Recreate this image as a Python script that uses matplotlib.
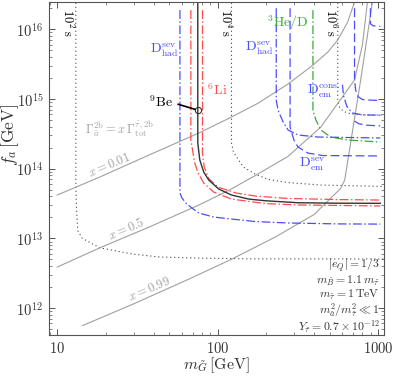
import matplotlib
matplotlib.use("Agg")
import matplotlib.pyplot as plt
from matplotlib.ticker import LogLocator, NullFormatter

plt.rcParams['mathtext.fontset'] = 'cm'
plt.rcParams['font.family'] = ['DejaVu Serif']

# ---------------- data (m_G in GeV, f_a in GeV) ----------------
# lifetime contours (dotted)
t2_m = [13.05, 13.05, 13.15, 13.4, 14.3, 18.4, 29.4, 43.2, 76.3, 156, 1090]
t2_f = [2.4e16, 6.9e13, 3.0e13, 1.3e13, 1.0e13, 7.3e12, 5.96e12, 5.4e12, 5.2e12, 5.08e12, 5.05e12]
t4_m = [122, 122, 125.6, 135, 145, 172, 207, 275, 440, 1090]
t4_f = [2.4e16, 2.33e14, 1.73e14, 1.33e14, 1.05e14, 8.3e13, 7.0e13, 6.3e13, 5.82e13, 5.55e13]
t6_m = [561, 561, 575, 610, 680, 800, 1090]
t6_f = [2.4e16, 9.6e14, 7.6e14, 6.6e14, 6.1e14, 5.9e14, 5.85e14]

# 9Be (solid)
be_m = [75.2, 75.2, 77.4, 81.9, 88.0, 101.5, 122, 156, 198, 317, 561, 1033]
be_f = [2.4e16, 2.33e14, 1.33e14, 8.94e13, 6.86e13, 5.1e13, 4.18e13, 3.66e13, 3.46e13, 3.24e13, 3.19e13, 3.18e13]
be_mark_m = [75.2]
be_mark_f = [6.9e14]

# 6Li (red dash-dot), two curves
li1_m = [68.1, 68.1, 72.0, 75.5, 81.9, 94.4, 122, 198, 317, 1033]
li1_f = [1.88e16, 2.57e14, 1.20e14, 8.65e13, 6.2e13, 4.61e13, 3.66e13, 3.15e13, 3.01e13, 2.91e13]
li2_m = [80.5, 80.5, 82.5, 88.0, 100, 130, 172, 275, 561, 1033]
li2_f = [1.88e16, 1.6e14, 1.05e14, 7.2e13, 5.45e13, 4.47e13, 4.04e13, 3.73e13, 3.6e13, 3.54e13]

# D_had^sev (blue dash-dot, left)
dh1_m = [58.2, 58.2, 59.9, 63.4, 69.1, 76.3, 94.4, 122, 172, 275, 561, 1033]
dh1_f = [1.88e16, 4.47e13, 3.79e13, 3.21e13, 2.72e13, 2.31e13, 2.02e13, 1.89e13, 1.74e13, 1.66e13, 1.61e13, 1.60e13]

# 3He/D (green dash-dot)
he_m = [393, 393, 410, 440, 508, 647, 1033]
he_f = [1.88e16, 6.9e14, 4.98e14, 3.58e14, 2.84e14, 2.57e14, 2.41e14]

# D_had^sev (blue dash-dot, right)
dh2_m = [232, 232, 238, 256, 275, 317, 422, 1033]
dh2_f = [2.0e16, 9.6e14, 6.9e14, 4.67e14, 3.58e14, 3.04e14, 2.84e14, 2.75e14]

# D_em^sev (blue dashed)
des_m = [283, 283, 299, 317, 366, 453, 1033]
des_f = [2.0e16, 3.95e14, 2.57e14, 2.04e14, 1.67e14, 1.54e14, 1.52e14]

# D_em^cons (blue, upper right)
dc1_m = [714, 714, 725, 750, 800, 900, 1033]
dc1_f = [2.0e16, 1.9e15, 1.35e15, 1.08e15, 9.8e14, 9.6e14, 9.5e14]
dc3_m = [600, 610, 640, 690, 800, 1033]
dc3_f = [1.6e15, 1.1e15, 7.8e14, 6.3e14, 5.9e14, 5.85e14]
dc4_m = [714, 760, 850, 1033]
dc4_f = [4.8e14, 4.4e14, 4.2e14, 4.1e14]
dc2_m = [897, 897, 930, 1033]
dc2_f = [2.0e16, 1.2e16, 1.12e16, 1.1e16]

# Gamma_a^2b = x Gamma_tot^2b lines (gray)
x001_m = [10, 18.4, 37.4, 76.3, 122, 179, 275, 393, 487, 561, 647, 714]
x001_f = [4.18e13, 7.57e13, 1.57e14, 3.24e14, 5.5e14, 8.7e14, 1.64e15, 3.06e15, 4.71e15, 7.0e15, 1.27e16, 2.45e16]
x05_m = [10, 18.4, 37.4, 76.3, 116, 179, 275, 440, 714, 800, 859]
x05_f = [3.87e12, 7.3e12, 1.45e13, 3.0e13, 4.8e13, 8.4e13, 1.5e14, 3.95e14, 1.87e15, 6.0e15, 2.45e16]
x099_m = [14.4, 30, 66.2, 122, 230, 400, 585, 620, 780, 923]
x099_f = [5.6e11, 1.15e12, 2.6e12, 5.0e12, 1.05e13, 2.2e13, 5.2e13, 6.86e13, 1.87e15, 2.45e16]

xticks = [10, 100, 1000]
xticklabels = [r'$10$', r'$100$', r'$1000$']
yticks = [1e12, 1e13, 1e14, 1e15, 1e16]
yticklabels = [r'$10^{12}$', r'$10^{13}$', r'$10^{14}$', r'$10^{15}$', r'$10^{16}$']

notes = [r'$|e_Q|=1/3$', r'$m_{\tilde B}=1.1\,m_{\tilde\tau}$', r'$m_{\tilde\tau}=1\,\mathrm{TeV}$',
         r'$m_{\tilde a}^2/m_{\tilde\tau}^2\ll 1$', r'$Y_{\tilde\tau}=0.7\times10^{-12}$']

# ---------------- figure ----------------
fig = plt.figure(figsize=(3.94, 3.76), dpi=100)
ax = fig.add_axes([49/394, 1-335/376, (384-49)/394, (335-1.5)/376])
ax.set_xscale('log')
ax.set_yscale('log')
ax.set_xlim(8.88, 1090)
ax.set_ylim(4.1e11, 2.5e16)

blue = '#4b4bff'
red = '#ff4a4a'
green = '#3aa83a'
gray = '#a0a0a0'
dk = '#333333'

dashdot = (0, (7, 2, 1.2, 2))
dashed = (0, (7, 3))
dotted = (0, (1, 2.6))
for mm, ff in [(t2_m, t2_f), (t4_m, t4_f), (t6_m, t6_f)]:
    ax.plot(mm, ff, color='#444444', ls=dotted, lw=0.8)

for mm, ff in [(x001_m, x001_f), (x05_m, x05_f), (x099_m, x099_f)]:
    ax.plot(mm, ff, color=gray, lw=0.8)

ax.plot(li1_m, li1_f, color=red, ls=dashdot, lw=0.9)
ax.plot(li2_m, li2_f, color=red, ls=dashdot, lw=0.9)
ax.plot(be_m, be_f, color=dk, lw=1.0)
ax.plot(dh1_m, dh1_f, color=blue, ls=dashdot, lw=0.9)
ax.plot(he_m, he_f, color=green, ls=dashdot, lw=0.9)
ax.plot(dh2_m, dh2_f, color=blue, ls=dashdot, lw=0.9)
ax.plot(des_m, des_f, color=blue, ls=dashed, lw=0.9)
ax.plot(dc1_m, dc1_f, color=blue, ls=dashed, lw=0.9)
ax.plot(dc3_m, dc3_f, color=blue, ls=dashdot, lw=0.9)
ax.plot(dc4_m, dc4_f, color=blue, ls=dashed, lw=0.9)
ax.plot(dc2_m, dc2_f, color=blue, ls=dashed, lw=0.9)

# 9Be marker and leader
ax.plot(be_mark_m, be_mark_f, marker='o', ms=4.5, mfc='none', mec=dk, mew=0.8, ls='none')
ax.annotate('', xy=(be_mark_m[0], be_mark_f[0]), xytext=(56.6, 8.4e14),
            arrowprops=dict(arrowstyle='-', color='black', lw=1.2, shrinkA=0, shrinkB=2))
ax.text(52.5, 9.0e14, r'$^9\mathrm{Be}$', ha='right', va='center', fontsize=10)

fs = 10
ax.text(86, 1.34e15, r'$^6\mathrm{Li}$', color=red, fontsize=fs, ha='left', va='center')
ax.text(57.5, 5.0e15, r'$\mathrm{D}^{\rm sev}_{\rm had}$', color=blue, fontsize=fs, ha='right', va='center')
ax.text(222, 5.3e15, r'$\mathrm{D}^{\rm sev}_{\rm had}$', color=blue, fontsize=fs, ha='right', va='center')
ax.text(275, 1.25e16, r'$^3\mathrm{He/D}$', color=green, fontsize=fs, ha='center', va='center')
ax.text(585, 1.3e15, r'$\mathrm{D}^{\rm cons.}_{\rm em}$', color=blue, fontsize=fs, ha='right', va='center')
ax.text(466, 1.13e14, r'$\mathrm{D}^{\rm sev}_{\rm em}$', color=blue, fontsize=fs, ha='right', va='center')

ax.text(11.6, 1.23e16, r'$10^2\ \mathrm{s}$', rotation=-90, fontsize=9, ha='center', va='center')
ax.text(112, 1.23e16, r'$10^4\ \mathrm{s}$', rotation=-90, fontsize=9, ha='center', va='center')
ax.text(504, 1.23e16, r'$10^6\ \mathrm{s}$', rotation=-90, fontsize=9, ha='center', va='center')

ax.text(14.8, 3.76e14, r'$\Gamma^{\rm 2b}_{\tilde a}=x\,\Gamma^{\tilde\tau,\rm 2b}_{\rm tot}$', color=gray, fontsize=9, ha='left', va='center')
ax.text(21.2, 1.13e14, r'$x=0.01$', color=gray, fontsize=9, rotation=23, ha='center', va='center', rotation_mode='anchor')
ax.text(26.8, 1.36e13, r'$x=0.5$', color=gray, fontsize=9, rotation=23, ha='center', va='center', rotation_mode='anchor')
ax.text(37.4, 1.87e12, r'$x=0.99$', color=gray, fontsize=9, rotation=23, ha='center', va='center', rotation_mode='anchor')

ys = [0.208, 0.163, 0.119, 0.074, 0.025]
for t, yy in zip(notes, ys):
    ax.text(0.988, yy, t, transform=ax.transAxes, ha='right', va='center', fontsize=8.5, color=dk)

ax.set_xticks(xticks)
ax.set_xticklabels(xticklabels)
ax.set_yticks(yticks)
ax.set_yticklabels(yticklabels)
ax.xaxis.set_minor_locator(LogLocator(base=10, subs=range(2, 10), numticks=20))
ax.yaxis.set_minor_locator(LogLocator(base=10, subs=range(2, 10), numticks=20))
ax.xaxis.set_minor_formatter(NullFormatter())
ax.yaxis.set_minor_formatter(NullFormatter())
ax.tick_params(which='both', direction='in', top=True, right=True, color='#555555', labelsize=10.5, labelcolor=dk)
ax.tick_params(which='major', length=4, width=0.7, pad=4)
ax.tick_params(which='minor', length=2, width=0.5)
for s in ax.spines.values():
    s.set_color('#555555')
    s.set_linewidth(0.8)

ax.set_xlabel(r'$m_{\tilde G}\,[\mathrm{GeV}]$', fontsize=11.5, color=dk, labelpad=0)
ax.set_ylabel(r'$f_a\,[\mathrm{GeV}]$', fontsize=12.5, color=dk)
ax.yaxis.set_label_coords(-0.085, 0.6)

fig.savefig('out.png', dpi=100)
